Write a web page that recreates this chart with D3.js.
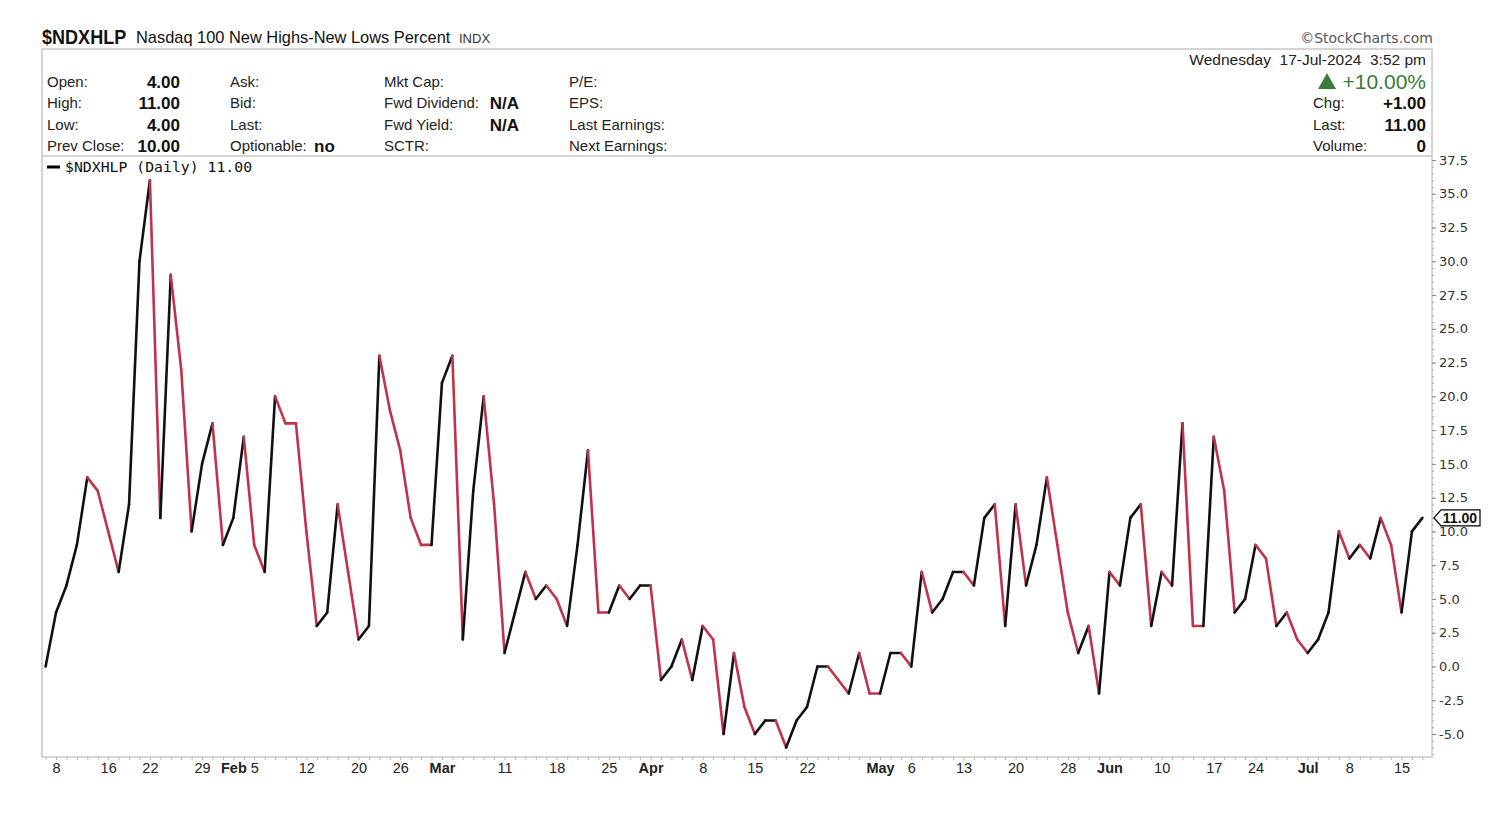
<!DOCTYPE html>
<html>
<head>
<meta charset="utf-8">
<script src="https://cdn.jsdelivr.net/npm/d3@7"></script>
<style>
  body { margin: 0; background: #fff; }
  svg text { font-family: "Liberation Sans", Arial, sans-serif; fill: #111; }
</style>
</head>
<body>
<svg id="chart" width="1500" height="813"></svg>
<script>
// trading days shown on the chart
var dates = [
  "2024-01-05", "2024-01-08", "2024-01-09", "2024-01-10", "2024-01-11", "2024-01-12",
  "2024-01-16", "2024-01-17", "2024-01-18", "2024-01-19",
  "2024-01-22", "2024-01-23", "2024-01-24", "2024-01-25", "2024-01-26",
  "2024-01-29", "2024-01-30", "2024-01-31", "2024-02-01", "2024-02-02",
  "2024-02-05", "2024-02-06", "2024-02-07", "2024-02-08", "2024-02-09",
  "2024-02-12", "2024-02-13", "2024-02-14", "2024-02-15", "2024-02-16",
  "2024-02-20", "2024-02-21", "2024-02-22", "2024-02-23",
  "2024-02-26", "2024-02-27", "2024-02-28", "2024-02-29", "2024-03-01",
  "2024-03-04", "2024-03-05", "2024-03-06", "2024-03-07", "2024-03-08",
  "2024-03-11", "2024-03-12", "2024-03-13", "2024-03-14", "2024-03-15",
  "2024-03-18", "2024-03-19", "2024-03-20", "2024-03-21", "2024-03-22",
  "2024-03-25", "2024-03-26", "2024-03-27", "2024-03-28",
  "2024-04-01", "2024-04-02", "2024-04-03", "2024-04-04", "2024-04-05",
  "2024-04-08", "2024-04-09", "2024-04-10", "2024-04-11", "2024-04-12",
  "2024-04-15", "2024-04-16", "2024-04-17", "2024-04-18", "2024-04-19",
  "2024-04-22", "2024-04-23", "2024-04-24", "2024-04-25", "2024-04-26",
  "2024-04-29", "2024-04-30", "2024-05-01", "2024-05-02", "2024-05-03",
  "2024-05-06", "2024-05-07", "2024-05-08", "2024-05-09", "2024-05-10",
  "2024-05-13", "2024-05-14", "2024-05-15", "2024-05-16", "2024-05-17",
  "2024-05-20", "2024-05-21", "2024-05-22", "2024-05-23", "2024-05-24",
  "2024-05-28", "2024-05-29", "2024-05-30", "2024-05-31",
  "2024-06-03", "2024-06-04", "2024-06-05", "2024-06-06", "2024-06-07",
  "2024-06-10", "2024-06-11", "2024-06-12", "2024-06-13", "2024-06-14",
  "2024-06-17", "2024-06-18", "2024-06-20", "2024-06-21",
  "2024-06-24", "2024-06-25", "2024-06-26", "2024-06-27", "2024-06-28",
  "2024-07-01", "2024-07-02", "2024-07-03", "2024-07-05",
  "2024-07-08", "2024-07-09", "2024-07-10", "2024-07-11", "2024-07-12",
  "2024-07-15", "2024-07-16", "2024-07-17"
];

// $NDXHLP daily close
var values = [
  0, 4, 6, 9, 14, 13,
  10, 7, 12, 30,
  36, 11, 29, 22, 10,
  15, 18, 9, 11, 17,
  9, 7, 20, 18, 18,
  10, 3, 4, 12, 7,
  2, 3, 23, 19,
  16, 11, 9, 9, 21,
  23, 2, 13, 20, 12,
  1, 4, 7, 5, 6,
  5, 3, 9, 16, 4,
  4, 6, 5, 6,
  6, -1, 0, 2, -1,
  3, 2, -5, 1, -3,
  -5, -4, -4, -6, -4,
  -3, 0, 0, -1, -2,
  1, -2, -2, 1, 1,
  0, 7, 4, 5, 7,
  7, 6, 11, 12, 3,
  12, 6, 9, 14, 9,
  4, 1, 3, -2,
  7, 6, 11, 12, 3,
  7, 6, 18, 3, 3,
  17, 13, 4, 5,
  9, 8, 3, 4, 2,
  1, 2, 4, 10,
  8, 9, 8, 11, 9,
  4, 10, 11
];

// x axis labels
var tickDates = [
  "2024-01-08", "2024-01-16", "2024-01-22", "2024-01-29", "2024-02-01", "2024-02-05",
  "2024-02-12", "2024-02-20", "2024-02-26", "2024-03-01", "2024-03-11", "2024-03-18",
  "2024-03-25", "2024-04-01", "2024-04-08", "2024-04-15", "2024-04-22", "2024-05-01",
  "2024-05-06", "2024-05-13", "2024-05-20", "2024-05-28", "2024-06-03", "2024-06-10",
  "2024-06-17", "2024-06-24", "2024-07-01", "2024-07-08", "2024-07-15"
];
var tickLabels = [
  "8", "16", "22", "29", "Feb", "5",
  "12", "20", "26", "Mar", "11", "18",
  "25", "Apr", "8", "15", "22", "May",
  "6", "13", "20", "28", "Jun", "10",
  "17", "24", "Jul", "8", "15"
];
var monthLabels = ["Feb", "Mar", "Apr", "May", "Jun", "Jul"];

// y axis labels
var yTicks = [-5, -2.5, 0, 2.5, 5, 7.5, 10, 12.5, 15, 17.5, 20, 22.5, 25, 27.5, 30, 32.5, 35, 37.5];

var svg = d3.select("#chart");

var plot = { left: 42, right: 1432, top: 156, bottom: 757 };

var x = d3.scalePoint().domain(dates).range([45.6, 1422.4]);
var y = d3.scaleLinear().domain([-5, 37.5]).range([734, 160]);

// ---- header ----
// condensed bold symbol (no narrow font installed, so squeeze it)
svg.append("text")
  .attr("transform", "translate(42,44) scale(0.86,1)")
  .style("font-weight", "bold").style("font-size", "21px")
  .text("$NDXHLP");
svg.append("text").attr("x", 136).attr("y", 43)
  .style("font-size", "16.4px").text("Nasdaq 100 New Highs-New Lows Percent");
svg.append("text").attr("x", 459).attr("y", 43)
  .style("font-size", "13px").style("fill", "#333").text("INDX");
svg.append("text").attr("x", 1433).attr("y", 43).attr("text-anchor", "end")
  .style("font-family", "'DejaVu Sans', Verdana, sans-serif")
  .style("font-size", "14px").style("fill", "#555").text("\u00a9StockCharts.com");

// info box
svg.append("rect").attr("x", plot.left).attr("y", 49)
  .attr("width", plot.right - plot.left).attr("height", plot.bottom - 49)
  .attr("fill", "none").attr("stroke", "#c8c8c8").attr("stroke-width", 1.5);
svg.append("line").attr("x1", plot.left).attr("x2", plot.right)
  .attr("y1", plot.top).attr("y2", plot.top)
  .attr("stroke", "#c8c8c8").attr("stroke-width", 1.5);

var rowY = [87, 108, 130, 151];
var infoCols = [
  { x: 47, labels: ["Open:", "High:", "Low:", "Prev Close:"], vx: 180, vals: ["4.00", "11.00", "4.00", "10.00"], anchor: "end" },
  { x: 230, labels: ["Ask:", "Bid:", "Last:", "Optionable:"], vx: 314, vals: ["", "", "", "no"], anchor: "start" },
  { x: 384, labels: ["Mkt Cap:", "Fwd Dividend:", "Fwd Yield:", "SCTR:"], vx: 519, vals: ["", "N/A", "N/A", ""], anchor: "end" },
  { x: 569, labels: ["P/E:", "EPS:", "Last Earnings:", "Next Earnings:"], vx: 0, vals: ["", "", "", ""], anchor: "end" }
];
infoCols.forEach(function (c) {
  c.labels.forEach(function (l, i) {
    svg.append("text").attr("x", c.x).attr("y", rowY[i])
      .style("font-size", "15px").style("fill", "#222").text(l);
    if (c.vals[i]) {
      svg.append("text").attr("x", c.vx).attr("y", rowY[i] + 1)
        .attr("text-anchor", c.anchor)
        .style("font-size", "17px").style("font-weight", "bold").text(c.vals[i]);
    }
  });
});

// right side quote
svg.append("text").attr("x", 1426).attr("y", 65).attr("text-anchor", "end")
  .style("font-size", "15.5px").style("white-space", "pre").style("fill", "#222")
  .text("Wednesday  17-Jul-2024  3:52 pm");
svg.append("path")
  .attr("d", "M1318,89 L1327,73 L1336,89 Z").attr("fill", "#3b7a3b");
svg.append("text").attr("x", 1426).attr("y", 89).attr("text-anchor", "end")
  .style("font-size", "21px").style("fill", "#3b7a3b").text("+10.00%");
var quoteLabels = ["Chg:", "Last:", "Volume:"];
var quoteVals = ["+1.00", "11.00", "0"];
quoteLabels.forEach(function (l, i) {
  svg.append("text").attr("x", 1313).attr("y", rowY[i + 1])
    .style("font-size", "15px").style("fill", "#222").text(l);
  svg.append("text").attr("x", 1426).attr("y", rowY[i + 1] + 1).attr("text-anchor", "end")
    .style("font-size", "17px").style("font-weight", "bold").text(quoteVals[i]);
});

// legend
svg.append("line").attr("x1", 47).attr("x2", 60).attr("y1", 167).attr("y2", 167)
  .attr("stroke", "#000").attr("stroke-width", 3);
svg.append("text").attr("x", 65).attr("y", 172)
  .style("font-family", "'DejaVu Sans Mono', monospace").style("font-size", "14.8px")
  .style("white-space", "pre")
  .text("$NDXHLP (Daily) 11.00");

// ---- y axis (right) ----
var yMinor = svg.append("g")
  .attr("transform", "translate(" + plot.right + ",0)")
  .call(d3.axisRight(y).tickValues(d3.range(-6.5, 38, 0.5)).tickSize(2).tickFormat(""));
yMinor.select(".domain").remove();
yMinor.selectAll("line").attr("stroke", "#aaa");

var yAxis = svg.append("g")
  .attr("transform", "translate(" + plot.right + ",0)")
  .call(d3.axisRight(y).tickValues(yTicks).tickSize(4).tickPadding(3)
    .tickFormat(function (d) { return d.toFixed(1); }))
  .attr("font-family", undefined);
yAxis.select(".domain").remove();
yAxis.selectAll("line").attr("stroke", "#888");
yAxis.selectAll("text")
  .style("font-family", "'DejaVu Sans', Verdana, sans-serif")
  .style("font-size", "13px").style("fill", "#333");

// ---- x axis ----
var xMinor = svg.append("g")
  .attr("transform", "translate(0," + plot.bottom + ")")
  .call(d3.axisBottom(x).tickValues(dates).tickSize(3).tickFormat(""));
xMinor.select(".domain").remove();
xMinor.selectAll("line").attr("stroke", "#bbb");

var xAxis = svg.append("g")
  .attr("transform", "translate(0," + plot.bottom + ")")
  .call(d3.axisBottom(x).tickValues(tickDates).tickSize(0).tickPadding(6)
    .tickFormat(function (d, i) { return tickLabels[i]; }))
  .attr("font-family", undefined);
xAxis.select(".domain").remove();
xAxis.selectAll("text")
  .style("font-size", "14.5px").style("fill", "#222")
  .style("font-weight", function (d, i) {
    return monthLabels.indexOf(tickLabels[i]) >= 0 ? "bold" : "normal";
  });

// ---- price line: black when rising, red when falling ----
var dir = [];
values.forEach(function (v, i) {
  if (i === 0) return;
  var prev = values[i - 1];
  if (v > prev) dir[i] = "up";
  else if (v < prev) dir[i] = "down";
  else dir[i] = dir[i - 1] || "up";
});

svg.append("g")
  .selectAll("line")
  .data(d3.range(1, values.length))
  .enter()
  .append("line")
  .attr("x1", function (i) { return x(dates[i - 1]); })
  .attr("y1", function (i) { return y(values[i - 1]); })
  .attr("x2", function (i) { return x(dates[i]); })
  .attr("y2", function (i) { return y(values[i]); })
  .attr("stroke", function (i) { return dir[i] === "up" ? "#111" : "#c0334a"; })
  .attr("stroke-width", 2.6)
  .attr("stroke-linecap", "round");

// last value tag
var lastY = y(values[values.length - 1]);
svg.append("path")
  .attr("d", "M1434," + lastY + " L1441," + (lastY - 8) + " L1480," + (lastY - 8) +
    " L1480," + (lastY + 8) + " L1441," + (lastY + 8) + " Z")
  .attr("fill", "#fff").attr("stroke", "#000").attr("stroke-width", 1.2);
svg.append("text").attr("x", 1460).attr("y", lastY + 5).attr("text-anchor", "middle")
  .style("font-size", "14px").style("font-weight", "bold")
  .text(values[values.length - 1].toFixed(2));
</script>
</body>
</html>
